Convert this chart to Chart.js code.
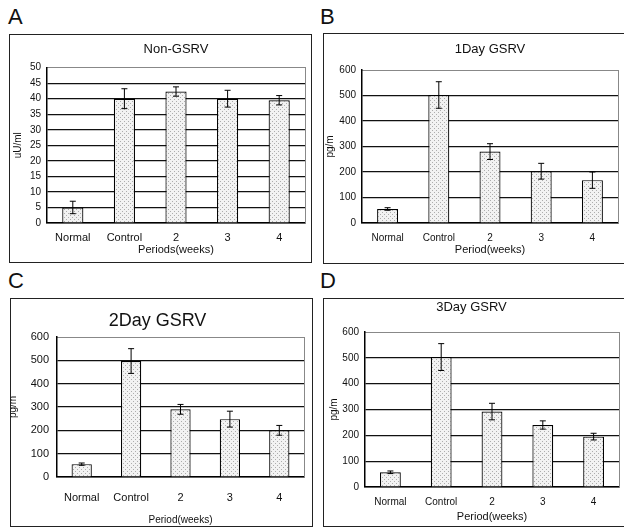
<!DOCTYPE html>
<html>
<head>
<meta charset="utf-8">
<script src="https://cdn.jsdelivr.net/npm/chart.js@4.4.1/dist/chart.umd.min.js"></script>
<style>
	html, body { margin: 0; padding: 0; background: #fff; width: 624px; height: 527px; overflow: hidden; position: relative; }
	.panel { position: absolute; box-sizing: border-box; border: 1px solid #222; background: #fff; }
	.panel canvas { display: block; }
	.tag { position: absolute; font: 22px/22px "Liberation Sans", Arial, sans-serif; color: #111; }
</style>
</head>
<body>
<div class="tag" style="left:8px; top:6px">A</div>
<div class="tag" style="left:320px; top:6px">B</div>
<div class="tag" style="left:8px; top:270px">C</div>
<div class="tag" style="left:320px; top:270px">D</div>

<div class="panel" style="left:9px; top:34px; width:303px; height:229px"><canvas id="chart-a" width="301" height="227"></canvas></div>
<div class="panel" style="left:323px; top:33px; width:305px; height:231px"><canvas id="chart-b" width="303" height="229"></canvas></div>
<div class="panel" style="left:10px; top:298px; width:303px; height:229px"><canvas id="chart-c" width="301" height="227"></canvas></div>
<div class="panel" style="left:323px; top:298px; width:305px; height:229px"><canvas id="chart-d" width="303" height="227"></canvas></div>

<script>
//--------------------------------------------
// Data
//--------------------------------------------
const CATEGORIES = ["Normal", "Control", "2", "3", "4"];

const NON_GSRV_MEAN = [5, 40, 42.3, 40, 39.5];
const NON_GSRV_ERR = [2, 3.2, 1.5, 2.7, 1.5];

const DAY1_MEAN = [55, 502, 280, 203, 168];
const DAY1_ERR = [5, 52, 31, 31, 32];

const DAY2_MEAN = [55, 497, 290, 248, 200];
const DAY2_ERR = [5, 53, 21, 34, 21];

const DAY3_MEAN = [57, 503, 292, 240, 195];
const DAY3_ERR = [5, 52, 32, 16, 13];

const TICKS_UU = [0, 5, 10, 15, 20, 25, 30, 35, 40, 45, 50];
const TICKS_PG = [0, 100, 200, 300, 400, 500, 600];

//--------------------------------------------
// Helpers
//--------------------------------------------
const FONT = '"Liberation Sans", Arial, sans-serif';
const INK = "#111";

// light dotted fill, like the printed bars
const dotFill = () => {
	const c = document.createElement("canvas");
	c.width = 4;
	c.height = 4;
	const g = c.getContext("2d");
	g.fillStyle = "#f2f2f2";
	g.fillRect(0, 0, 4, 4);
	g.fillStyle = "#adadad";
	g.fillRect(0, 0, 1, 1);
	g.fillRect(2, 2, 1, 1);
	return g.createPattern(c, "repeat");
};

const errorBars = (errs) => ({
	id: "errorBars",
	afterDatasetsDraw(chart) {
		const { ctx } = chart;
		const yScale = chart.scales.y;
		const ds = chart.data.datasets[0];
		chart.getDatasetMeta(0).data.forEach((bar, i) => {
			const hi = yScale.getPixelForValue(ds.data[i] + errs[i]);
			const lo = yScale.getPixelForValue(ds.data[i] - errs[i]);
			ctx.save();
			ctx.strokeStyle = "#000";
			ctx.lineWidth = 1;
			ctx.beginPath();
			ctx.moveTo(bar.x, hi);
			ctx.lineTo(bar.x, lo);
			ctx.moveTo(bar.x - 3, hi);
			ctx.lineTo(bar.x + 3, hi);
			ctx.moveTo(bar.x - 3, lo);
			ctx.lineTo(bar.x + 3, lo);
			ctx.stroke();
			ctx.restore();
		});
	},
});

const buildConfig = (p) => {
	const yMax = p.yTicks[p.yTicks.length - 1];
	return {
		type: "bar",
		data: {
			labels: CATEGORIES,
			datasets: [
				{
					data: p.mean,
					backgroundColor: dotFill(),
					borderColor: "#000",
					borderWidth: 1.2,
					categoryPercentage: 1,
					barPercentage: 0.41,
				},
			],
		},
		options: {
			responsive: false,
			animation: false,
			events: [],
			layout: {
				padding: { left: p.padLeft, right: p.padRight, top: 0, bottom: 0 },
			},
			plugins: {
				legend: { display: false },
				tooltip: { enabled: false },
				title: {
					display: true,
					text: p.title,
					fullSize: p.titleFull,
					color: INK,
					font: { family: FONT, size: p.titleSize, weight: "normal" },
					padding: { top: p.titleTop, bottom: p.titleBottom },
				},
			},
			scales: {
				x: {
					grid: { display: false, drawTicks: false },
					border: { color: "#000", width: 1.5 },
					ticks: {
						color: INK,
						font: { family: FONT, size: p.xTickSize },
						padding: p.xTickPad,
						maxRotation: 0,
						autoSkip: false,
					},
					title: {
						display: true,
						text: p.xTitle,
						color: INK,
						font: { family: FONT, size: p.xTitleSize },
						padding: { top: 0, bottom: p.xTitlePad },
					},
					afterFit: (s) => {
						s.height = p.xHeight;
					},
				},
				x2: {
					type: "category",
					labels: CATEGORIES,
					position: "top",
					offset: true,
					grid: { display: false, drawTicks: false },
					ticks: { display: false },
					border: { color: "#888", width: 1, dash: [2, 2] },
					afterFit: (s) => {
						s.height = 0;
					},
				},
				y: {
					min: p.yTicks[0],
					max: yMax,
					afterBuildTicks: (s) => {
						s.ticks = p.yTicks.map((v) => ({ value: v }));
					},
					grid: {
						color: (c) => (c.tick && c.tick.value === yMax ? "rgba(0,0,0,0)" : "#111"),
						lineWidth: 1.2,
						drawTicks: false,
					},
					border: { color: "#000", width: 1.5 },
					ticks: {
						color: INK,
						font: { family: FONT, size: p.yTickSize },
						padding: p.yTickPad,
					},
					title: {
						display: true,
						text: p.yTitle,
						color: INK,
						font: { family: FONT, size: 10 },
						padding: { top: p.yTitlePad, bottom: 0 },
					},
					afterFit: (s) => {
						s.width = p.yWidth;
					},
				},
				y2: {
					position: "right",
					min: p.yTicks[0],
					max: yMax,
					grid: { display: false, drawTicks: false },
					ticks: { display: false },
					border: { color: "#888", width: 1, dash: [2, 2] },
					afterFit: (s) => {
						s.width = 0;
					},
				},
			},
		},
		plugins: [errorBars(p.err)],
	};
};

//--------------------------------------------
// Panels
//--------------------------------------------
const PANELS = [
	{
		id: "chart-a", title: "Non-GSRV", yTitle: "uU/ml", xTitle: "Periods(weeks)",
		mean: NON_GSRV_MEAN, err: NON_GSRV_ERR, yTicks: TICKS_UU,
		padLeft: 2, padRight: 6, titleSize: 13, titleTop: 7, titleBottom: 10, titleFull: false,
		yWidth: 35, yTickSize: 10, yTickPad: 6, yTitlePad: 0,
		xHeight: 39, xTickSize: 11, xTickPad: 8, xTitleSize: 11, xTitlePad: 5,
	},
	{
		id: "chart-b", title: "1Day GSRV", yTitle: "pg/m", xTitle: "Period(weeks)",
		mean: DAY1_MEAN, err: DAY1_ERR, yTicks: TICKS_PG,
		padLeft: 0, padRight: 9, titleSize: 13, titleTop: 8, titleBottom: 12.4, titleFull: false,
		yWidth: 38, yTickSize: 10, yTickPad: 6, yTitlePad: 0,
		xHeight: 40, xTickSize: 10, xTickPad: 9, xTitleSize: 11, xTitlePad: 6,
	},
	{
		id: "chart-c", title: "2Day GSRV", yTitle: "pg/m", xTitle: "Period(weeks)",
		mean: DAY2_MEAN, err: DAY2_ERR, yTicks: TICKS_PG,
		padLeft: 0, padRight: 8, titleSize: 18, titleTop: 11.2, titleBottom: 5.2, titleFull: true,
		yWidth: 46, yTickSize: 11, yTickPad: 8, yTitlePad: -3.5,
		xHeight: 49, xTickSize: 11, xTickPad: 14, xTitleSize: 10, xTitlePad: 0,
	},
	{
		id: "chart-d", title: "3Day GSRV", yTitle: "pg/m", xTitle: "Period(weeks)",
		mean: DAY3_MEAN, err: DAY3_ERR, yTicks: TICKS_PG,
		padLeft: 0, padRight: 8, titleSize: 13, titleTop: 0.5, titleBottom: 16.9, titleFull: true,
		yWidth: 41, yTickSize: 10, yTickPad: 6, yTitlePad: 4,
		xHeight: 39, xTickSize: 10, xTickPad: 9, xTitleSize: 11, xTitlePad: 2,
	},
];

PANELS.forEach((p) => {
	const el = document.getElementById(p.id);
	if (el) {
		new Chart(el, buildConfig(p));
	}
});
</script>
</body>
</html>
